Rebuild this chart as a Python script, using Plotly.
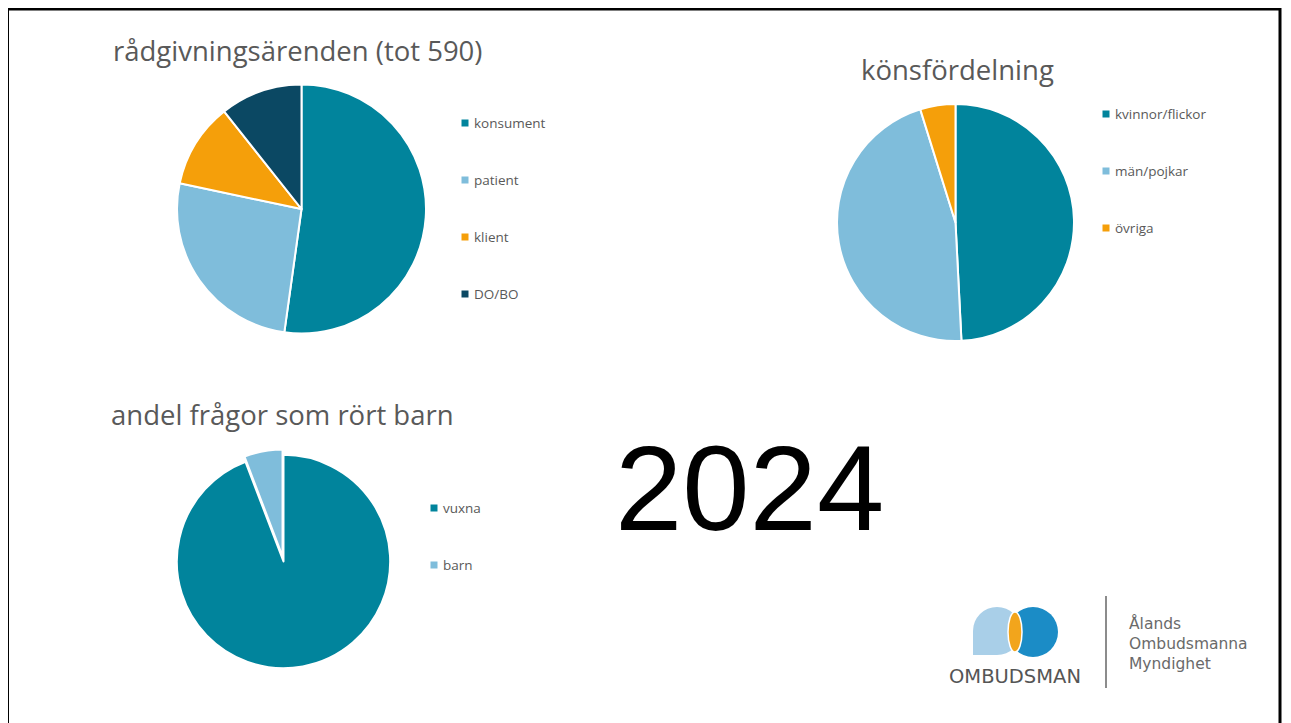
import plotly.graph_objects as go

OFF = 8  # page body margin
W, H = 1291 - OFF, 723 - OFF

# data
arenden_labels = ["konsument", "patient", "klient", "DO/BO"]
arenden_values = [308, 154, 65, 63]
arenden_colors = ["#01849c", "#7fbddb", "#f59f0a", "#0b4863"]

kon_labels = ["kvinnor/flickor", "män/pojkar", "övriga"]
kon_values = [49.2, 46.0, 4.8]
kon_colors = ["#01849c", "#7fbddb", "#f59f0a"]

barn_labels = ["vuxna", "barn"]
barn_values = [94.2, 5.8]
barn_colors = ["#01849c", "#7fbddb"]

titles = ["rådgivningsärenden (tot 590)", "könsfördelning", "andel frågor som rört barn"]
year_label = "2024"

GREY = "#595959"


def px(x):
    return (x - OFF) / W


def py(y):
    return 1 - (y - OFF) / H


def dom(cx, cy, r):
    return dict(x=[px(cx - r), px(cx + r)], y=[py(cy + r), py(cy - r)])


fig = go.Figure()

pies = [
    (arenden_labels, arenden_values, arenden_colors, (301.5, 209, 124.5), None),
    (kon_labels, kon_values, kon_colors, (955.5, 222.5, 118.5), None),
    (barn_labels, barn_values, barn_colors, (283.5, 561.5, 112), [0, 0.05]),
]
for labels, values, colors, (cx, cy, r), pull in pies:
    fig.add_trace(go.Pie(
        labels=labels, values=values, sort=False, direction="clockwise",
        rotation=0, domain=dom(cx, cy, r), textinfo="none", hoverinfo="label+value",
        marker=dict(colors=colors, line=dict(color="white", width=2)),
        pull=pull, showlegend=False,
    ))

# legends drawn by hand to match spacing
legends = [
    (arenden_labels, arenden_colors, 465, 123),
    (kon_labels, kon_colors, 1106, 114),
    (barn_labels, barn_colors, 434, 508),
]
shapes = []
annotations = []
for labels, colors, lx, ly in legends:
    for i, (lab, col) in enumerate(zip(labels, colors)):
        y = ly + i * 57
        shapes.append(dict(type="rect", xref="paper", yref="paper",
                           x0=px(lx - 3.5), x1=px(lx + 3.5), y0=py(y + 3.5), y1=py(y - 3.5),
                           fillcolor=col, line=dict(width=0)))
        annotations.append(dict(text=lab, x=px(lx + 7), y=py(y), xref="paper", yref="paper",
                                xanchor="left", yanchor="middle", showarrow=False,
                                font=dict(family="Open Sans", size=13.5, color=GREY)))

# titles
for txt, x, y, anc in [(titles[0], 111, 50, "left"), (titles[1], 957, 69, "center"),
                       (titles[2], 109, 414, "left")]:
    annotations.append(dict(text=txt, x=px(x), y=py(y), xref="paper", yref="paper",
                            xanchor=anc, yanchor="middle", showarrow=False,
                            font=dict(family="Open Sans", size=27.5, color=GREY)))

annotations.append(dict(text=year_label, x=px(749), y=py(488), xref="paper", yref="paper",
                        xanchor="center", yanchor="middle", showarrow=False,
                        font=dict(family="Liberation Sans", size=121, color="black")))

# logo
shapes += [
    dict(type="circle", xref="paper", yref="paper", x0=px(973), x1=px(1021), y0=py(655), y1=py(607),
         fillcolor="#a9cfe8", line=dict(width=0)),
    dict(type="rect", xref="paper", yref="paper", x0=px(973), x1=px(997), y0=py(655), y1=py(631),
         fillcolor="#a9cfe8", line=dict(width=0)),
    dict(type="circle", xref="paper", yref="paper", x0=px(1008), x1=px(1058), y0=py(657), y1=py(607),
         fillcolor="#1b8cc6", line=dict(width=0)),
    dict(type="circle", xref="paper", yref="paper", x0=px(1008), x1=px(1022), y0=py(652), y1=py(612),
         fillcolor="#f2a51c", line=dict(color="white", width=1.5)),
    dict(type="line", xref="paper", yref="paper", x0=px(1106), x1=px(1106), y0=py(688), y1=py(596),
         line=dict(color="#8c8c8c", width=2)),
    # slide frame
    dict(type="rect", xref="paper", yref="paper", x0=px(7.5), x1=px(1280), y0=py(740), y1=py(9),
         line=dict(color="black", width=3)),
]
annotations.append(dict(text="OMBUDSMAN", x=px(1015), y=py(676), xref="paper", yref="paper",
                        xanchor="center", yanchor="middle", showarrow=False,
                        font=dict(family="DejaVu Sans", size=19.5, color="#555555")))
annotations.append(dict(text="Ålands<br>Ombudsmanna<br>Myndighet", x=px(1127), y=py(643),
                        xref="paper", yref="paper", xanchor="left", yanchor="middle",
                        align="left", showarrow=False,
                        font=dict(family="DejaVu Sans", size=15.5, color="#6a6a6a")))

fig.update_layout(
    width=W, height=H, margin=dict(l=0, r=0, t=0, b=0),
    paper_bgcolor="white", plot_bgcolor="white",
    shapes=shapes, annotations=annotations,
)

fig.write_html("out.html")
